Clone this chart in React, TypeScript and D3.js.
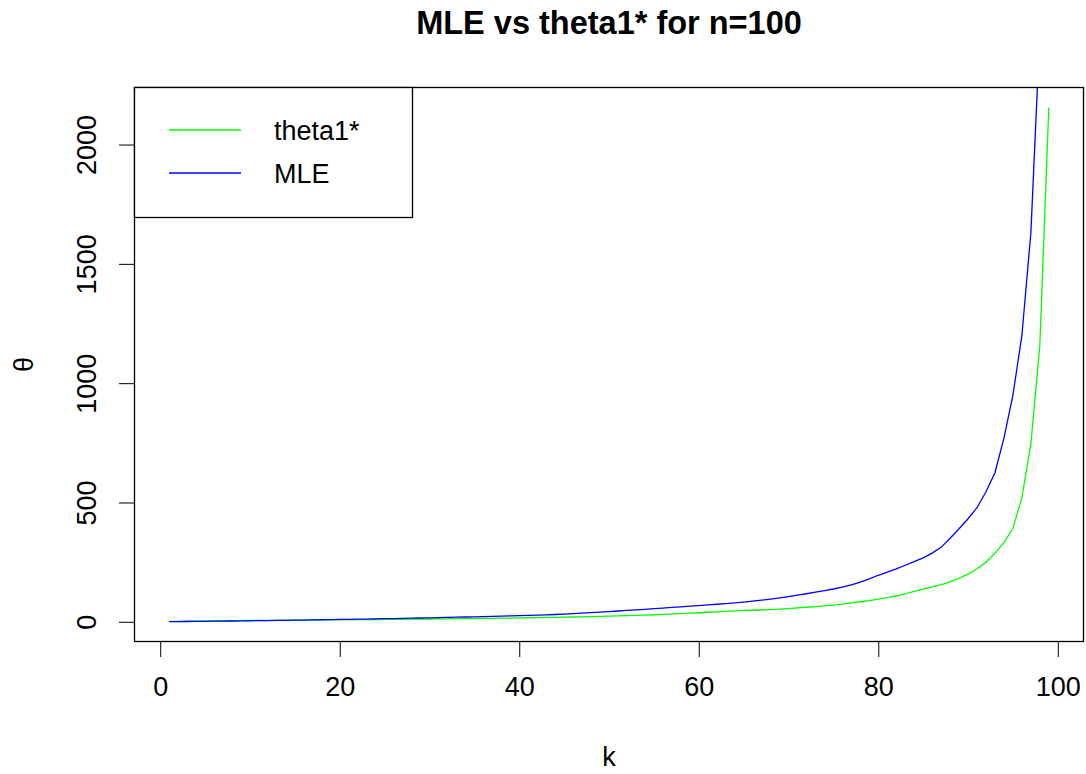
import { useEffect, useRef } from "react";
import * as d3 from "d3";

// k = 1..99, n = 100
const kValues = [
  1, 2, 3, 4, 5, 6, 7, 8, 9, 10, 11, 12, 13, 14, 15, 16, 17, 18, 19, 20,
  21, 22, 23, 24, 25, 26, 27, 28, 29, 30, 31, 32, 33, 34, 35, 36, 37, 38, 39, 40,
  41, 42, 43, 44, 45, 46, 47, 48, 49, 50, 51, 52, 53, 54, 55, 56, 57, 58, 59, 60,
  61, 62, 63, 64, 65, 66, 67, 68, 69, 70, 71, 72, 73, 74, 75, 76, 77, 78, 79, 80,
  81, 82, 83, 84, 85, 86, 87, 88, 89, 90, 91, 92, 93, 94, 95, 96, 97, 98, 99,
];

// values
const theta1Star = [
  1.5, 2, 2.6, 3.2, 3.7, 4.1, 4.5, 4.8, 5.1, 5.4,
  5.7, 6, 6.3, 6.6, 6.9, 7.2, 7.5, 7.8, 8.1, 8.5,
  8.8, 9.1, 9.4, 9.7, 10, 10.3, 10.6, 10.9, 11.3, 11.7,
  12.1, 12.5, 12.9, 13.3, 13.7, 14.2, 14.7, 15.2, 15.7, 16.3,
  16.9, 17.5, 18.1, 18.8, 19.5, 20.2, 21, 21.8, 22.6, 23.5,
  24.5, 25.8, 27, 28.2, 29.5, 31, 32.5, 34, 36, 38,
  40, 42, 44, 46, 47.5, 48.5, 49.5, 51, 53, 55.5,
  58, 61, 64, 67, 70, 74, 79, 84, 89, 95,
  101, 109, 117, 127, 137, 146, 156, 167, 183, 200,
  222, 250, 288, 332, 392, 520, 745, 1160, 2155,
];

const mle = [
  0.4, 0.8, 1.2, 1.6, 2.1, 2.5, 2.9, 3.4, 3.9, 4.3,
  4.8, 5.3, 5.8, 6.3, 6.9, 7.4, 8, 8.6, 9.1, 9.8,
  10.4, 11, 11.6, 12.3, 13, 13.7, 14.4, 15.2, 15.9, 16.7,
  17.5, 18.4, 19.2, 20.1, 21, 21.9, 22.9, 23.9, 24.9, 26,
  27.1, 28.2, 29.4, 30.6, 32.3, 34.2, 36.3, 38.5, 40.8, 43,
  45.3, 47.6, 50, 52.5, 55, 57.6, 60.2, 62.8, 65.4, 68,
  70.7, 73.5, 76.4, 79.5, 82.8, 86.5, 90.5, 95, 100, 105.5,
  111.5, 117.5, 124, 130.5, 137.5, 145.5, 154.5, 166, 180, 195,
  208, 222, 237, 252, 268, 288, 312, 350, 390, 432,
  478, 545, 625, 770, 950, 1200, 1630, 2470, 4900,
];

const xTickValues = [0, 20, 40, 60, 80, 100];
const yTickValues = [0, 500, 1000, 1500, 2000];
const seriesNames = ["theta1*", "MLE"];
const seriesColors = ["#00ff00", "#0000ff"];

const App = () => {
  const svgRef = useRef<SVGSVGElement>(null);

  useEffect(() => {
    const width = 1086;
    const height = 774;
    const plot = { left: 134, right: 1084, top: 87, bottom: 642 };
    const font = "'Liberation Sans', Arial, Helvetica, sans-serif";
    const fontSize = 27;

    const svg = d3.select(svgRef.current);
    svg.selectAll("*").remove();
    svg.attr("width", width).attr("height", height);

    svg.append("rect").attr("width", width).attr("height", height).attr("fill", "#fff");

    // R style: 4% padding on each side of the data range
    const [kMin, kMax] = d3.extent(kValues) as [number, number];
    const kPad = (kMax - kMin) * 0.04;
    const x = d3
      .scaleLinear()
      .domain([kMin - kPad, kMax + kPad])
      .range([plot.left, plot.right]);

    const [tMin, tMax] = d3.extent(theta1Star) as [number, number];
    const tPad = (tMax - tMin) * 0.04;
    const y = d3
      .scaleLinear()
      .domain([tMin - tPad, tMax + tPad])
      .range([plot.bottom, plot.top]);

    svg
      .append("clipPath")
      .attr("id", "plot-clip")
      .append("rect")
      .attr("x", plot.left)
      .attr("y", plot.top)
      .attr("width", plot.right - plot.left)
      .attr("height", plot.bottom - plot.top);

    const line = d3
      .line<number>()
      .x((_, i) => x(kValues[i]))
      .y((d) => y(d));

    [theta1Star, mle].forEach((vals, i) => {
      svg
        .append("path")
        .datum(vals)
        .attr("clip-path", "url(#plot-clip)")
        .attr("fill", "none")
        .attr("stroke", seriesColors[i])
        .attr("stroke-width", 1.3)
        .attr("d", line);
    });

    // x axis
    const gx = svg
      .append("g")
      .attr("transform", `translate(0,${plot.bottom})`)
      .call(d3.axisBottom(x).tickValues(xTickValues).tickSize(15).tickSizeOuter(0));
    gx.select(".domain").remove();
    gx.selectAll("line").attr("stroke", "#000");
    gx.selectAll("text")
      .attr("fill", "#000")
      .attr("dy", null)
      .attr("y", 54)
      .style("font-family", font)
      .style("font-size", `${fontSize}px`);

    // y axis, labels rotated like R's las=0
    const gy = svg
      .append("g")
      .attr("transform", `translate(${plot.left},0)`)
      .call(d3.axisLeft(y).tickValues(yTickValues).tickSize(15).tickSizeOuter(0).tickFormat(d3.format("d")));
    gy.select(".domain").remove();
    gy.selectAll("line").attr("stroke", "#000");
    gy.selectAll("text")
      .attr("fill", "#000")
      .attr("x", null)
      .attr("dy", null)
      .attr("text-anchor", "middle")
      .attr("transform", `translate(${96 - plot.left},0) rotate(-90)`)
      .style("font-family", font)
      .style("font-size", `${fontSize}px`);

    // plot box
    svg
      .append("rect")
      .attr("x", plot.left + 0.5)
      .attr("y", plot.top + 0.5)
      .attr("width", plot.right - plot.left - 1)
      .attr("height", plot.bottom - plot.top - 1)
      .attr("fill", "none")
      .attr("stroke", "#000")
      .attr("stroke-width", 1.3);

    // title and axis labels
    svg
      .append("text")
      .attr("x", (plot.left + plot.right) / 2)
      .attr("y", 34)
      .attr("text-anchor", "middle")
      .style("font-family", font)
      .style("font-size", "32.5px")
      .style("font-weight", "bold")
      .text("MLE vs theta1* for n=100");

    svg
      .append("text")
      .attr("x", (plot.left + plot.right) / 2)
      .attr("y", 766)
      .attr("text-anchor", "middle")
      .style("font-family", font)
      .style("font-size", `${fontSize}px`)
      .text("k");

    svg
      .append("text")
      .attr("transform", `translate(33,${(plot.top + plot.bottom) / 2}) rotate(-90)`)
      .attr("text-anchor", "middle")
      .style("font-family", font)
      .style("font-size", `${fontSize}px`)
      .text("θ");

    // legend (topleft)
    const legend = { x: plot.left, y: plot.top, w: 278, h: 130 };
    svg
      .append("rect")
      .attr("x", legend.x + 0.5)
      .attr("y", legend.y + 0.5)
      .attr("width", legend.w)
      .attr("height", legend.h)
      .attr("fill", "#fff")
      .attr("stroke", "#000")
      .attr("stroke-width", 1.3);

    seriesNames.forEach((name, i) => {
      const ly = legend.y + 43 + i * 43;
      svg
        .append("line")
        .attr("x1", legend.x + 35)
        .attr("x2", legend.x + 107)
        .attr("y1", ly)
        .attr("y2", ly)
        .attr("stroke", seriesColors[i])
        .attr("stroke-width", 1.3);
      svg
        .append("text")
        .attr("x", legend.x + 140)
        .attr("y", ly + 9.5)
        .style("font-family", font)
        .style("font-size", `${fontSize}px`)
        .text(name);
    });
  }, []);

  return (
    <svg
      ref={svgRef}
      style={{ position: "absolute", left: 0, top: 0, display: "block" }}
    ></svg>
  );
};

export default App;
